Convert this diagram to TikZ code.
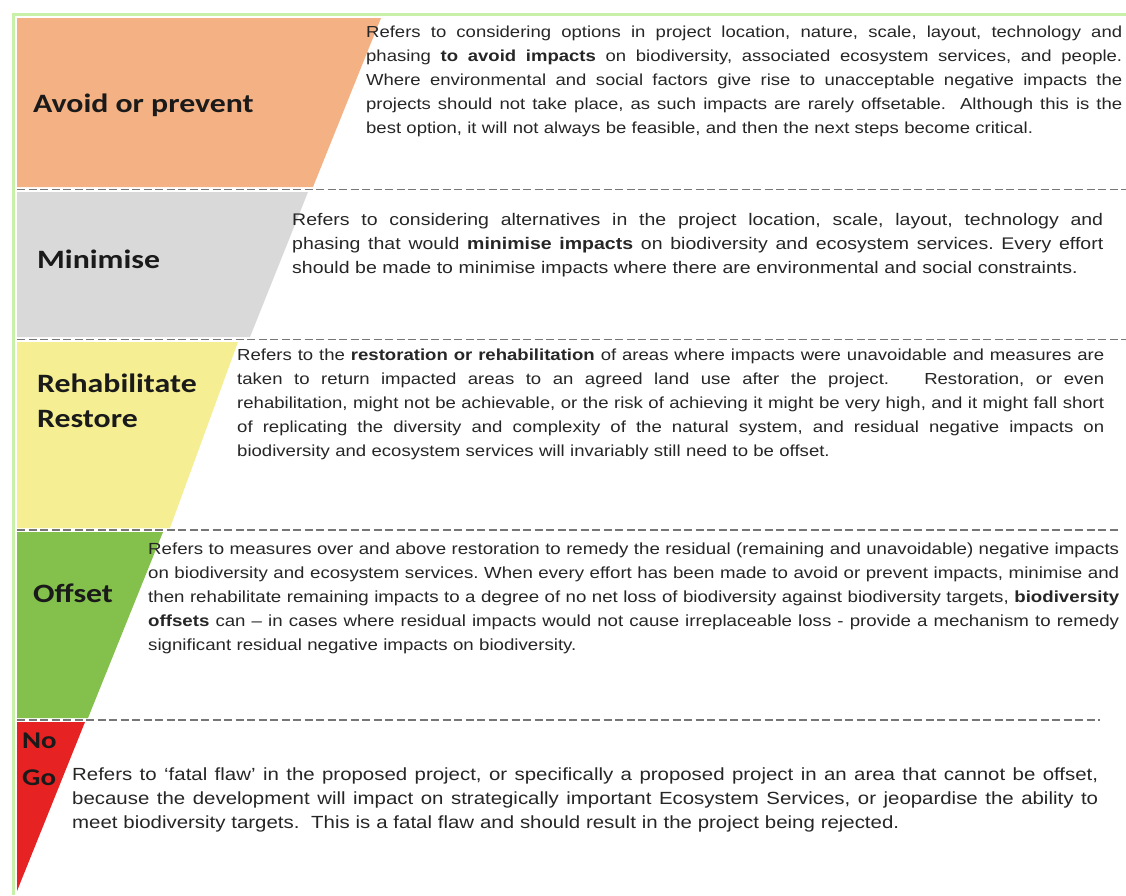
\documentclass[tikz,border=0pt]{standalone}
\usepackage{fontspec}
\setmainfont{Liberation Sans}[FakeStretch=1.16]
\newfontfamily\lblfont{Carlito}[FakeStretch=1.2]
\newlength\blkw
\newcommand\J[1]{\leavevmode\hbox to \blkw{\frenchspacing\spaceskip=0.28em plus 1fil\relax\xspaceskip=\spaceskip #1}}
\newcommand\Lst[1]{\leavevmode\hbox to \blkw{#1\hfil}}
\definecolor{cOrange}{HTML}{F4B183}
\definecolor{cGrey}{HTML}{D9D9D9}
\definecolor{cYellow}{HTML}{F5EE92}
\definecolor{cGreen}{HTML}{84C04C}
\definecolor{cRed}{HTML}{E62222}
\definecolor{cBorder}{HTML}{C8F0A8}
\definecolor{dashgray}{HTML}{767676}
\definecolor{txt}{HTML}{262626}
\definecolor{lbltxt}{HTML}{1A1A1A}
\begin{document}
\begin{tikzpicture}[x=1pt,y=-1pt,
  body/.style={anchor=base west, inner sep=0pt, align=left, text width=\blkw,
    font=\fontsize{#1}{24}\selectfont, text=txt},
  lbl/.style={anchor=base west, inner sep=0pt, align=left,
    font=\lblfont\bfseries\fontsize{26.5}{35}\selectfont, text=lbltxt},
  sepline/.style={draw=dashgray, line width=1.8pt, dash pattern=on 8pt off 3.5pt}]
\useasboundingbox (0,0) rectangle (1126,895);
\fill[white] (0,0) rectangle (1126,895);
% bands
\fill[cOrange] (17,18) -- (381,18) -- (313,187) -- (17,187) -- cycle;
\fill[cGrey]   (17,192) -- (308,192) -- (250,337) -- (17,337) -- cycle;
\fill[cYellow] (17,342) -- (238,342) -- (170,528) -- (17,528) -- cycle;
\fill[cGreen]  (17,532) -- (163,532) -- (88,718) -- (17,718) -- cycle;
\fill[cRed]    (17,722) -- (85,722) -- (17,891) -- cycle;
% separators
\draw[sepline] (17,189.5) -- (1126,189.5);
\draw[sepline] (17,339.5) -- (1126,339.5);
\draw[sepline] (17,530) -- (1118,530);
\draw[sepline] (17,720) -- (1100,720);
% border
\draw[cBorder, line width=3pt] (13.5,895) -- (13.5,14.5) -- (1126,14.5);
% labels
\node[lbl] (lavoid) at (33,112) {Avoid or prevent};
\node[lbl] (lmin) at (37,268) {Minimise};
\node[lbl] (lrehab) at (37,427) {Rehabilitate\\Restore};
\node[lbl] (loff) at (33,602) {Offset};
\node[lbl, font=\lblfont\bfseries\fontsize{24}{37}\selectfont] (lnogo) at (22,785) {No\\Go};
% texts
\setlength\blkw{756pt}
\node[body=15.95] (tavoid) at (366,37) {%
\J{Refers to considering options in project location, nature, scale, layout, technology and}\\
\J{phasing \textbf{to avoid impacts} on biodiversity, associated ecosystem services, and people.}\\
\J{Where environmental and social factors give rise to unacceptable negative impacts the}\\
\J{projects should not take place, as such impacts are rarely offsetable.\ \ Although this is the}\\
\Lst{best option, it will not always be feasible, and then the next steps become critical.}};
\setlength\blkw{811pt}
\node[body=16.8] (tmin) at (292,225) {%
\J{Refers to considering alternatives in the project location, scale, layout, technology and}\\
\J{phasing that would \textbf{minimise impacts} on biodiversity and ecosystem services. Every effort}\\
\Lst{should be made to minimise impacts where there are environmental and social constraints.}};
\setlength\blkw{867pt}
\node[body=16.0] (trehab) at (237,360) {%
\J{Refers to the \textbf{restoration or rehabilitation} of areas where impacts were unavoidable and measures are}\\
\J{taken to return impacted areas to an agreed land use after the project.\hspace{2.2em}Restoration, or even}\\
\J{rehabilitation, might not be achievable, or the risk of achieving it might be very high, and it might fall short}\\
\J{of replicating the diversity and complexity of the natural system, and residual negative impacts on}\\
\Lst{biodiversity and ecosystem services will invariably still need to be offset.}};
\setlength\blkw{971pt}
\node[body=16.1] (toff) at (148,554) {%
\J{Refers to measures over and above restoration to remedy the residual (remaining and unavoidable) negative impacts}\\
\J{on biodiversity and ecosystem services. When every effort has been made to avoid or prevent impacts, minimise and}\\
\J{then rehabilitate remaining impacts to a degree of no net loss of biodiversity against biodiversity targets, \textbf{biodiversity}}\\
\J{\textbf{offsets} can – in cases where residual impacts would not cause irreplaceable loss - provide a mechanism to remedy}\\
\Lst{significant residual negative impacts on biodiversity.}};
\setlength\blkw{1026pt}
\node[body=17.6] (tnogo) at (72,780) {%
\J{Refers to ‘fatal flaw’ in the proposed project, or specifically a proposed project in an area that cannot be offset,}\\
\J{because the development will impact on strategically important Ecosystem Services, or jeopardise the ability to}\\
\Lst{meet biodiversity targets.\ \ This is a fatal flaw and should result in the project being rejected.}};
\end{tikzpicture}
\end{document}
